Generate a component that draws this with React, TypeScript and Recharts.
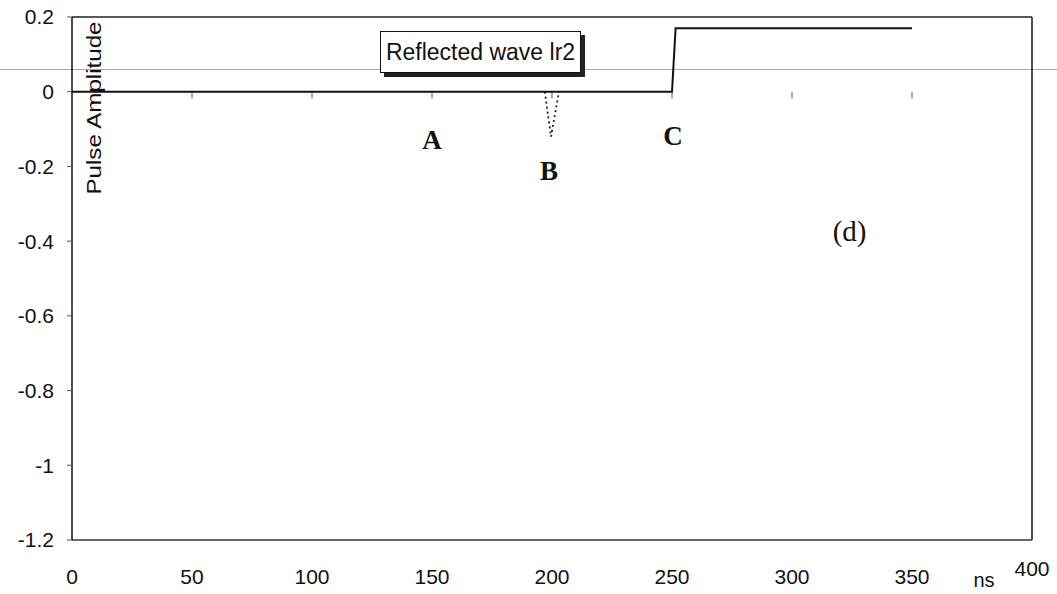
import React from 'react';
import { LineChart, Line, XAxis, YAxis, ReferenceLine, ReferenceDot } from 'recharts';

const sans = '"Liberation Sans", Arial, sans-serif';
const serif = '"Liberation Serif", "Times New Roman", serif';

// axis ticks
const xTicks = [0, 50, 100, 150, 200, 250, 300, 350, 400];
const yTicks = [-1.2, -1, -0.8, -0.6, -0.4, -0.2, 0, 0.2];
const zeroMarks = [50, 100, 150, 200, 250, 300, 350];

// reflected wave (solid)
const waveTime = [0, 250, 251.5, 350];
const waveAmp = [0, 0, 0.17, 0.17];

// dip at B (dotted)
const dipTime = [197, 199.6, 202.9];
const dipAmp = [0, -0.12, 0];

// annotations
const noteText = ['A', 'B', 'C', '(d)'];
const noteTime = [150, 198.8, 250.4, 324];
const noteAmp = [-0.127, -0.21, -0.117, -0.372];

const waveData = waveTime.map((t, i) => ({ t, v: waveAmp[i] }));
const dipData = dipTime.map((t, i) => ({ t, v: dipAmp[i] }));

const XTick = (props: any) => {
  const { x, y, payload } = props;
  const lift = payload.value === 400 ? -8 : 0;
  return (
    <text x={x} y={y + lift} dy="0.71em" textAnchor="middle" fontSize={21} fontFamily={sans} fill="#111">
      {payload.value}
    </text>
  );
};

const YTick = (props: any) => {
  const { x, y, payload } = props;
  return (
    <text x={x} y={y} dy="0.355em" textAnchor="end" fontSize={21} fontFamily={sans} fill="#111">
      {payload.value}
    </text>
  );
};

export default function App() {
  return (
    <div style={{ position: 'absolute', left: 0, top: 0, width: 1057, height: 594, background: '#fff' }}>
      <div style={{ position: 'absolute', left: 0, top: 69, width: 1057, height: 1, background: '#a8a8a8' }} />
      <LineChart width={1057} height={594} margin={{ top: 17, right: 25, bottom: 0, left: 0 }}>
        <XAxis
          dataKey="t"
          type="number"
          domain={[0, 400]}
          ticks={xTicks}
          height={54}
          tickLine={false}
          tickSize={0}
          tickMargin={29}
          tick={<XTick />}
          axisLine={{ stroke: '#333', strokeWidth: 1.3 }}
          label={{
            content: () => (
              <text x={984} y={587} textAnchor="middle" fontSize={20} fontFamily={sans} fill="#111">ns</text>
            ),
          }}
        />
        <YAxis
          type="number"
          domain={[-1.2, 0.2]}
          ticks={yTicks}
          width={72}
          tickSize={5}
          tickMargin={13}
          tick={<YTick />}
          tickLine={{ stroke: '#555' }}
          axisLine={{ stroke: '#111', strokeWidth: 1.5 }}
          label={{
            content: () => (
              <text
                transform="translate(101,108) rotate(-90)"
                textAnchor="middle"
                fontSize={20}
                fontFamily={sans}
                fill="#111"
                textLength={173}
                lengthAdjust="spacingAndGlyphs"
              >
                Pulse Amplitude
              </text>
            ),
          }}
        />
        <ReferenceLine y={0.2} stroke="#222" strokeWidth={1.3} />
        <ReferenceLine x={400} stroke="#222" strokeWidth={1.6} />
        {zeroMarks.map((t) => (
          <ReferenceLine key={t} segment={[{ x: t, y: 0 }, { x: t, y: -0.018 }]} stroke="#555" />
        ))}
        <Line
          data={dipData}
          dataKey="v"
          type="linear"
          stroke="#222"
          strokeWidth={1.8}
          strokeDasharray="2 3"
          dot={false}
          isAnimationActive={false}
        />
        <Line
          data={waveData}
          dataKey="v"
          type="linear"
          stroke="#111"
          strokeWidth={2}
          dot={false}
          isAnimationActive={false}
        />
        {noteText.map((txt, i) => (
          <ReferenceDot
            key={txt}
            x={noteTime[i]}
            y={noteAmp[i]}
            r={1}
            fill="none"
            stroke="none"
            label={{
              value: txt,
              position: 'center',
              fill: '#111',
              fontFamily: serif,
              fontSize: txt === '(d)' ? 29 : 27,
              fontWeight: txt === '(d)' ? 'normal' : 'bold',
            }}
          />
        ))}
      </LineChart>
      <div style={{
        position: 'absolute',
        left: 380,
        top: 31,
        width: 201,
        height: 42,
        background: '#fff',
        border: '1px solid #111',
        boxShadow: '4px 4px 0 #222',
        boxSizing: 'border-box',
        display: 'flex',
        alignItems: 'center',
        justifyContent: 'center',
        fontFamily: sans,
        fontSize: 23,
        color: '#111',
      }}>
        Reflected wave lr2
      </div>
    </div>
  );
}
